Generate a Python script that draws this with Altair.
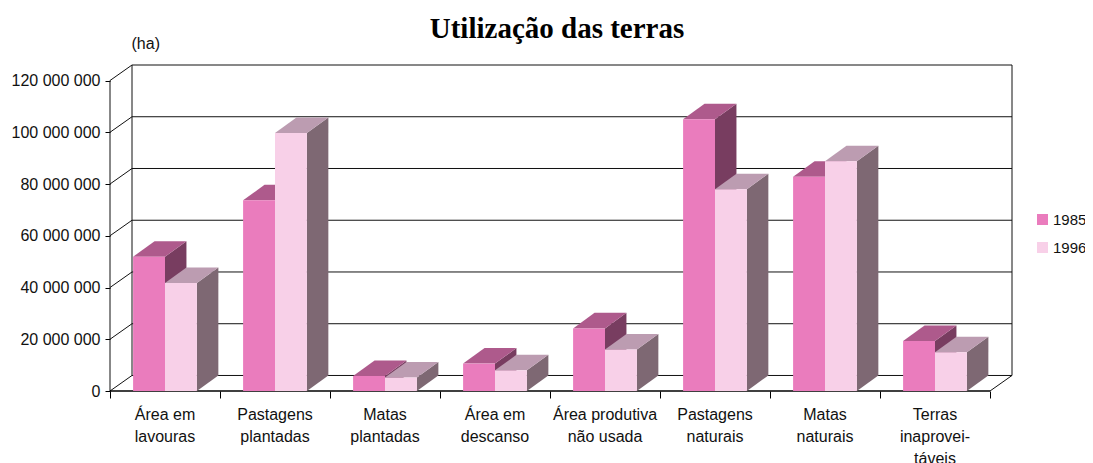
import altair as alt
import pandas as pd

categories = ["Área em\nlavouras", "Pastagens\nplantadas", "Matas\nplantadas", "Área em\ndescanso",
              "Área produtiva\nnão usada", "Pastagens\nnaturais", "Matas\nnaturais", "Terras\ninaprovei-\ntáveis"]
v1985 = [51.9, 73.7, 5.8, 10.6, 24.2, 105.0, 82.8, 19.3]
v1996 = [41.7, 99.7, 5.2, 8.0, 16.0, 78.0, 88.8, 15.0]
tick_values = [0, 20, 40, 60, 80, 100, 120]
series_names = ["1985", "1996"]
front_colors = ["#EA7CBD", "#F8D0E8"]
top_colors = ["#AE5A8C", "#BC9CB1"]
side_colors = ["#783D60", "#7E6873"]

M = 1_000_000
DX, DY = 0.195, 6 * M
BAR_START, BAR_W = 0.21, 0.29
WALL_DX = 0.2
FONT = "Liberation Sans"
FS = 16

x_scale = alt.Scale(domain=[0, 8 + WALL_DX], nice=False, zero=False)
y_scale = alt.Scale(domain=[0, 120 * M + DY], nice=False, zero=False)


def X(field, axis=None):
    return alt.X(field, type="quantitative", scale=x_scale, axis=axis, title=None)


def Y(field, axis=None):
    return alt.Y(field, type="quantitative", scale=y_scale, axis=axis, title=None)


front, top, side = [], [], []
for s, (name, vals) in enumerate(zip(series_names, [v1985, v1996])):
    for i, v in enumerate(vals):
        val = v * M
        a = i + BAR_START + s * BAR_W
        b = a + BAR_W
        front.append(dict(series=name, x=a, x2=b, y=val, y2=0))
        for t in (0, 1):
            side.append(dict(series=name, cat=i, x=b + t * DX, y=val + t * DY, y2=t * DY))
            top.append(dict(series=name, cat=i, x=a + t * DX, x2=b + t * DX, y=val + t * DY))
front, top, side = pd.DataFrame(front), pd.DataFrame(top), pd.DataFrame(side)

# --- walls and axes
grid = pd.DataFrame([dict(x=WALL_DX, x2=8 + WALL_DX, y=t * M + DY) for t in tick_values])
diag = pd.DataFrame([dict(x=0, x2=WALL_DX, y=t * M, y2=t * M + DY) for t in tick_values] +
                    [dict(x=8, x2=8 + WALL_DX, y=0, y2=DY)])
vert = pd.DataFrame([dict(x=0, y=0, y2=120 * M), dict(x=WALL_DX, y=DY, y2=120 * M + DY),
                     dict(x=8 + WALL_DX, y=DY, y2=120 * M + DY)])

axis_y = alt.Axis(values=[t * M for t in tick_values], domain=False, grid=False,
                  tickSize=5, tickColor="#000", tickWidth=1,
                  labelExpr="replace(format(datum.value, ','), /,/g, ' ')",
                  labelFont=FONT, labelFontSize=FS, labelColor="#111", labelPadding=5,
                  title="(ha)", titleAngle=0, titleX=21, titleY=-22, titleAlign="left",
                  titleBaseline="middle", titleFont=FONT, titleFontSize=FS,
                  titleFontWeight="normal", titleColor="#111")
axis_x = alt.Axis(values=list(range(9)), domain=False, grid=False, labels=False,
                  tickSize=7, tickColor="#000", tickWidth=1)

layers = [
    alt.Chart(grid).mark_rule(color="#111", strokeWidth=1).encode(
        x=alt.X("x", type="quantitative", scale=x_scale, axis=axis_x, title=None), x2="x2",
        y=alt.Y("y", type="quantitative", scale=y_scale, axis=axis_y)),
    alt.Chart(diag).mark_rule(color="#111", strokeWidth=1).encode(x=X("x"), x2="x2", y=Y("y"), y2="y2"),
    alt.Chart(vert).mark_rule(color="#111", strokeWidth=1).encode(x=X("x"), y=Y("y"), y2="y2"),
    alt.Chart(pd.DataFrame([dict(x=0, x2=8, y=0)])).mark_rule(color="#000", strokeWidth=1.6).encode(
        x=X("x"), x2="x2", y=Y("y")),
]

color = alt.Color("series:N", scale=alt.Scale(domain=series_names, range=front_colors),
                  legend=alt.Legend(orient="none", legendX=925, legendY=147, title=None,
                                    symbolType="square", symbolSize=121, symbolStrokeWidth=0,
                                    labelFont=FONT, labelFontSize=15, labelColor="#111",
                                    labelOffset=3, rowPadding=12))

for s, name in enumerate(series_names):
    layers += [
        alt.Chart(side[side.series == name]).mark_area(color=side_colors[s], interpolate="linear").encode(
            x=X("x"), y=Y("y"), y2="y2", detail="cat:N"),
        alt.Chart(top[top.series == name]).mark_area(color=top_colors[s], orient="horizontal").encode(
            y=Y("y"), x=X("x"), x2="x2", detail="cat:N"),
        alt.Chart(front[front.series == name]).mark_rect().encode(
            x=X("x"), x2="x2", y=Y("y"), y2="y2", color=color),
    ]

labels = pd.DataFrame([dict(x=i + 0.5, y=0, text=c) for i, c in enumerate(categories)])
layers.append(
    alt.Chart(labels).mark_text(font=FONT, fontSize=FS, color="#111", baseline="top", align="center",
                                lineBreak="\n", lineHeight=22, dy=16).encode(
        x=X("x"), y=Y("y"), text="text:N"))

chart = alt.layer(*layers).resolve_axis(x="independent", y="independent").properties(
    width=902, height=326,
    padding={"left": 102, "top": 57, "right": 73, "bottom": 72},
    autosize=alt.AutoSizeParams(type="none"),
    title=alt.TitleParams("Utilização das terras", font="Liberation Serif", fontSize=29,
                          fontWeight="bold", color="#000", anchor="middle", dx=-4, offset=-9),
).configure_view(stroke=None)

chart.save("out.html", embed_options={"renderer": "svg", "actions": False})
